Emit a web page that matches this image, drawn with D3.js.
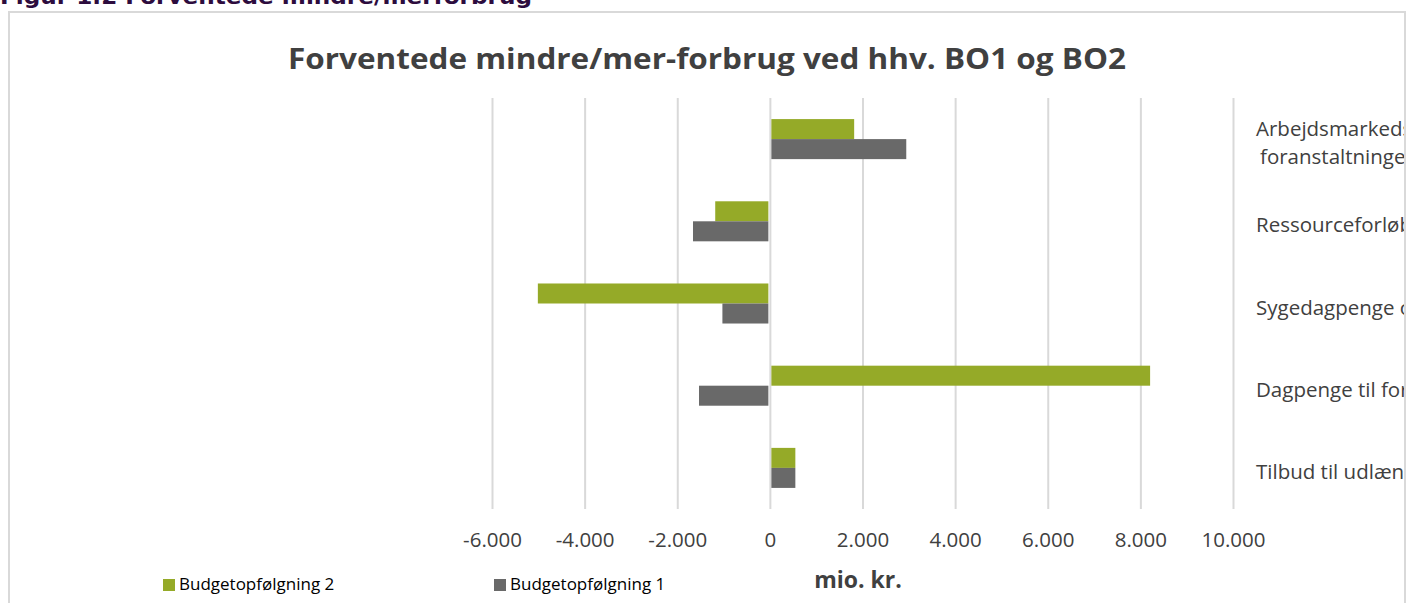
<!DOCTYPE html>
<html>
<head>
<meta charset="utf-8">
<script src="https://cdn.jsdelivr.net/npm/d3@7"></script>
<style>
  html, body { margin: 0; padding: 0; background: #fff; }
  svg { display: block; }
</style>
</head>
<body>
<svg id="chart" width="1410" height="603"></svg>
<script>
// ---- data ----
const categories = [
  ["Arbejdsmarkeds-", "foranstaltninger"],
  ["Ressourceforløb"],
  ["Sygedagpenge og jobafklaring"],
  ["Dagpenge til forsikrede ledige"],
  ["Tilbud til udlændinge"]
];
const seriesNames = ["Budgetopfølgning 2", "Budgetopfølgning 1"];
const bo2Values = [1820, -1180, -5010, 8210, 550];
const bo1Values = [2945, -1660, -1025, -1530, 550];
const tickValues = [-6000, -4000, -2000, 0, 2000, 4000, 6000, 8000, 10000];
const seriesColors = ["#95aa28", "#696969"];

const svg = d3.select("#chart");
const W = 1410, H = 603;
const plot = { left: 492, right: 1233, top: 98, bottom: 509 };

const locale = d3.formatLocale({ decimal: ",", thousands: ".", grouping: [3], currency: ["", ""], minus: "-" });
const fmt = locale.format(",d");

// clip to chart box
svg.append("defs").append("clipPath").attr("id", "box")
  .append("rect").attr("x", 0).attr("y", 0).attr("width", 1404).attr("height", H);

// Heading (partly cut off at top)
svg.append("text")
  .attr("x", 0).attr("y", 4)
  .attr("font-family", "DejaVu Sans").attr("font-weight", "bold")
  .attr("font-size", 21).attr("fill", "#2d0c3e")
  .attr("textLength", 532).attr("lengthAdjust", "spacingAndGlyphs")
  .text("Figur 1.2 Forventede mindre/merforbrug");

// Chart box border
svg.append("path")
  .attr("d", `M9,${H + 2}V12H1405V${H + 2}`)
  .attr("fill", "none").attr("stroke", "#d9d9d9").attr("stroke-width", 2);

const g = svg.append("g").attr("clip-path", "url(#box)");

// Title
g.append("text")
  .attr("x", 707).attr("y", 69)
  .attr("text-anchor", "middle")
  .attr("font-family", "Open Sans").attr("font-weight", "bold")
  .attr("font-size", 29).attr("fill", "#404040")
  .attr("textLength", 838).attr("lengthAdjust", "spacingAndGlyphs")
  .text("Forventede mindre/mer-forbrug ved hhv. BO1 og BO2");

const x = d3.scaleLinear().domain([-6000, 10000]).range([plot.left, plot.right]);
const y = d3.scaleBand().domain(d3.range(categories.length))
  .range([plot.top, plot.bottom]).paddingInner(0.513).paddingOuter(0.2565);
const ySub = d3.scaleBand().domain([0, 1]).range([0, y.bandwidth()]);

// gridlines
const grid = g.append("g").attr("transform", `translate(0,${plot.bottom})`)
  .call(d3.axisBottom(x).tickValues(tickValues).tickSize(-(plot.bottom - plot.top)).tickFormat(""));
grid.select(".domain").remove();
grid.selectAll("line").attr("stroke", "#d9d9d9").attr("stroke-width", 2);

// tick labels
const ax = g.append("g").attr("transform", `translate(0,${plot.bottom})`)
  .call(d3.axisBottom(x).tickValues(tickValues).tickSize(0).tickPadding(23).tickFormat(d => fmt(d)));
ax.select(".domain").remove();
ax.selectAll("text")
  .attr("font-family", "Open Sans").attr("font-size", 20.5).attr("fill", "#404040");

// bars
const seriesData = [bo2Values, bo1Values];
seriesData.forEach((vals, si) => {
  g.append("g").selectAll("rect").data(vals).join("rect")
    .attr("x", d => x(Math.min(0, d)) + (d >= 0 ? 1.5 : 0))
    .attr("width", d => Math.abs(x(d) - x(0)) - 1.5)
    .attr("y", (d, i) => y(i) + ySub(si))
    .attr("height", ySub.bandwidth())
    .attr("fill", seriesColors[si]);
});

// category labels (right side)
categories.forEach((lines, i) => {
  const cy = y(i) + y.bandwidth() / 2;
  const t = g.append("text")
    .attr("font-family", "Open Sans").attr("font-size", 20.5).attr("fill", "#404040");
  const n = lines.length;
  lines.forEach((ln, k) => {
    t.append("tspan")
      .attr("x", 1256 + (k > 0 ? 4 : 0))
      .attr("y", cy + 11 + (k - (n - 1) / 2) * 28.5)
      .text(ln);
  });
});

// axis title
g.append("text")
  .attr("x", 858).attr("y", 588)
  .attr("text-anchor", "middle")
  .attr("font-family", "Open Sans").attr("font-weight", "bold")
  .attr("font-size", 23).attr("fill", "#404040")
  .text("mio. kr.");

// legend
const legendX = [163, 494];
seriesNames.forEach((name, i) => {
  const lg = g.append("g").attr("transform", `translate(${legendX[i]},579)`);
  lg.append("rect").attr("width", 12).attr("height", 12).attr("fill", seriesColors[i]);
  lg.append("text").attr("x", 16).attr("y", 11)
    .attr("font-family", "Open Sans").attr("font-size", 17).attr("fill", "#000")
    .text(name);
});
</script>
</body>
</html>
